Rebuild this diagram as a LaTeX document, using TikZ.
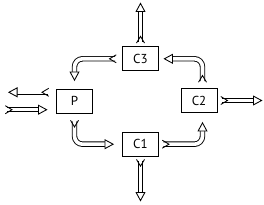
\documentclass[tikz,border=0pt]{standalone}
\usepackage{fontspec}
\setmainfont{PT Sans}
\usetikzlibrary{arrows.meta,calc}
\tikzset{
  box/.style={draw, line width=0.9pt, minimum width=36pt, minimum height=24pt, inner sep=0pt, font=\fontsize{13}{15}\selectfont},
  shaftouter/.style={draw=black, line width=5.4pt, shorten >=6pt, rounded corners=8pt},
  shaftinner/.style={draw=white, line width=3.6pt, shorten <=-1pt, rounded corners=8pt,
    -{Triangle[length=9.5pt,width=10pt,line width=0.85pt,color=black,fill=white]}},
  tailstyle/.style={draw=black, line width=0.85pt, line join=miter}
}
\newcommand\hollowarrow[1]{%
  \draw[shaftouter] #1;
  \draw[shaftinner] #1;
}
\newcommand\tailV[3]{%
  \draw[tailstyle] ($(#1)+({-1.2*(#2)+4*(#3)},{-1.2*(#3)+4*(#2)})$) -- ($(#1)+({5.5*(#2)},{5.5*(#3)})$) -- ($(#1)+({-1.2*(#2)-4*(#3)},{-1.2*(#3)-4*(#2)})$);
}
\begin{document}
\begin{tikzpicture}[x=1pt,y=-1pt]
\useasboundingbox (0,0) rectangle (264,205);
\node[box] (C3) at (140.5,58.8) {C3};
\node[box] (P)  at (74.5,101) {P};
\node[box] (C2) at (199,100.5) {C2};
\node[box] (C1) at (140.5,144.2) {C1};

% outward arrows
\coordinate (t1) at ($(C3.north)+(0,-4.5)$);
\coordinate (h1) at (140.5,2.5);
\hollowarrow{(t1) -- (h1)}
\tailV{t1}{0}{-1}

\coordinate (t2) at ($(C1.south)+(0,4)$);
\coordinate (h2) at (140.5,201.5);
\hollowarrow{(t2) -- (h2)}
\tailV{t2}{0}{1}

\coordinate (t3) at ($(C2.east)+(4.5,0)$);
\coordinate (h3) at (262.5,100.5);
\hollowarrow{(t3) -- (h3)}
\tailV{t3}{1}{0}

\coordinate (t4) at ($(P.west)+(-8.5,-8.7)$);
\coordinate (h4) at (8,92.3);
\hollowarrow{(t4) -- (h4)}
\tailV{t4}{-1}{0}

\coordinate (t5) at (6.5,109.7);
\coordinate (h5) at ($(P.west)+(-8.5,8.7)$);
\hollowarrow{(t5) -- (h5)}
\tailV{t5}{1}{0}

% cycle arrows
\coordinate (t6) at ($(C3.west)+(-7,0)$);
\coordinate (h6) at ($(P.north)+(0,-7.5)$);
\hollowarrow{(t6) -| (h6)}
\tailV{t6}{-1}{0}

\coordinate (t7) at ($(P.south)+(0,8)$);
\coordinate (h7) at ($(C1.west)+(-8,0)$);
\hollowarrow{(t7) |- (h7)}
\tailV{t7}{0}{1}

\coordinate (t8) at ($(C1.east)+(4.5,0)$);
\coordinate (h8) at ($(C2.south)+(3.5,9)$);
\hollowarrow{(t8) -| (h8)}
\tailV{t8}{1}{0}

\coordinate (t9) at ($(C2.north)+(3.5,-7)$);
\coordinate (h9) at ($(C3.east)+(4.5,0)$);
\hollowarrow{(t9) |- (h9)}
\tailV{t9}{0}{-1}
\end{tikzpicture}
\end{document}
